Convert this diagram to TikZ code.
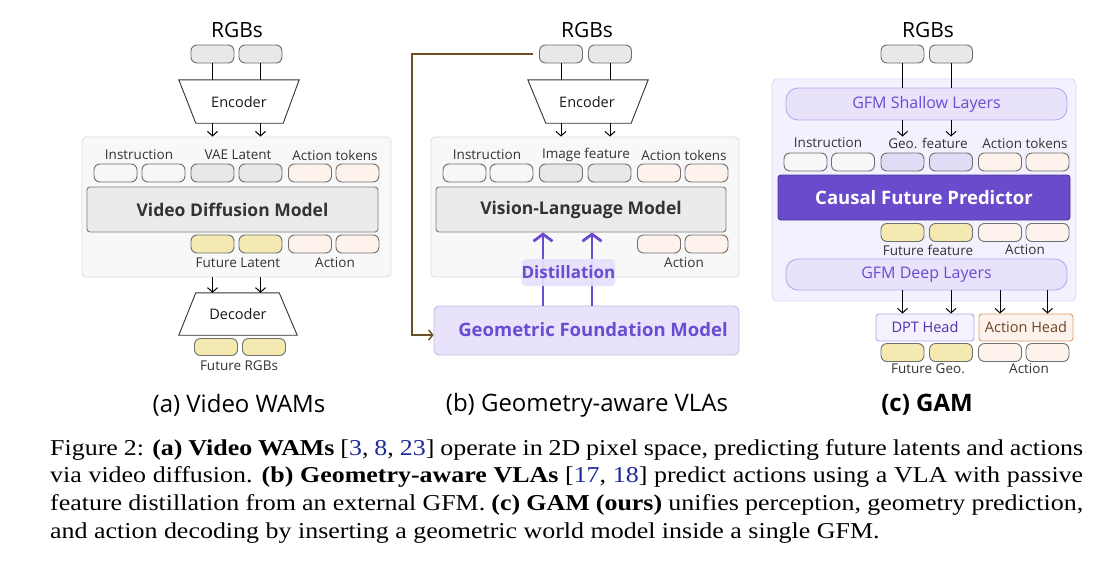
\documentclass[tikz,border=0pt]{standalone}
\usepackage{fontspec}
\setmainfont{Open Sans}
\newfontfamily\capfont[FakeStretch=1.143]{Liberation Serif}
\usetikzlibrary{arrows.meta}
\definecolor{tokline}{HTML}{6E6E6E}
\definecolor{tokgray}{HTML}{E8E8E8}
\definecolor{tokwhite}{HTML}{F7F7F7}
\definecolor{tokpeach}{HTML}{FDF3EC}
\definecolor{tokyellow}{HTML}{F4E9B0}
\definecolor{toklav}{HTML}{E2DBF6}
\definecolor{conbg}{HTML}{F8F8F8}
\definecolor{conline}{HTML}{DCDCDC}
\definecolor{modbg}{HTML}{EBEBEB}
\definecolor{modline}{HTML}{7A7A7A}
\definecolor{lbltext}{HTML}{333333}
\definecolor{purp}{HTML}{6A4BD2}
\definecolor{gfmbg}{HTML}{E8E2FA}
\definecolor{gfmline}{HTML}{C6BBE6}
\definecolor{conCbg}{HTML}{F4F1FE}
\definecolor{conCline}{HTML}{DED6F6}
\definecolor{layline}{HTML}{BBA8EE}
\definecolor{cfpbg}{HTML}{6A4BCC}
\definecolor{cfpline}{HTML}{4A3599}
\definecolor{dptbg}{HTML}{F5F2FE}
\definecolor{dptline}{HTML}{B7A3EC}
\definecolor{dpttext}{HTML}{4B2FB0}
\definecolor{ahline}{HTML}{E09A6A}
\definecolor{ahtext}{HTML}{6B4424}
\definecolor{brownline}{HTML}{6B4F24}
\definecolor{distbg}{HTML}{E7E0FB}
\definecolor{citeblue}{HTML}{1F2A9A}
\newcommand\mytok[4]{\node[tokenbox,fill=#4] (#1) at (#2,#3) {};}
\newcommand\citenum[1]{\textcolor{citeblue}{#1}}
\tikzset{
  tokenbox/.style={draw=tokline, line width=0.9pt, rounded corners=6pt, minimum width=43pt, minimum height=18pt, inner sep=0pt},
  lbl/.style={font=\fontsize{13.5}{16}\selectfont, text=lbltext, inner sep=0pt},
  title/.style={font=\fontsize{21}{24}\selectfont, text=black, inner sep=0pt},
  subcap/.style={font=\fontsize{24}{28}\selectfont, text=black, inner sep=0pt},
  arr/.style={-{Straight Barb[length=4.5pt,width=10pt]}, line width=1pt, black},
  plain/.style={line width=1pt, black},
  container/.style={draw=conline, fill=conbg, line width=0.8pt, rounded corners=4pt, inner sep=0pt},
  modelbox/.style={draw=modline, fill=modbg, line width=0.9pt, rounded corners=3pt, inner sep=0pt, text=lbltext, font=\bfseries\fontsize{17.5}{20}\selectfont},
  trap/.style={draw=black!80, fill=white, line width=0.9pt},
  traplabel/.style={inner sep=0pt, font=\fontsize{14.5}{17}\selectfont, text=black!90},
  layer/.style={draw=layline, fill=gfmbg, line width=0.9pt, rounded corners=12pt, inner sep=0pt, text=purp, font=\fontsize{16}{19}\selectfont},
  distarr/.style={-{Straight Barb[length=7pt,width=19pt,line width=2.8pt]}, line width=2.8pt, purp},
  brownarr/.style={-{Straight Barb[length=4pt,width=10pt]}, line width=1.4pt, brownline}
}
\begin{document}
\begin{tikzpicture}[x=1pt,y=-1pt]
\fill[white] (0,0) rectangle (1109,568);
\useasboundingbox (0,0) rectangle (1109,568);

% ================= (a) =================
\node[container, minimum width=309pt, minimum height=140pt] (conA) at (236.5,207) {};
\node[title] (rgbsA) at (237,30) {RGBs};
\mytok{rgbA1}{212.5}{54}{tokgray}
\mytok{rgbA2}{260.5}{54}{tokgray}
\node[inner sep=0pt, minimum width=120pt, minimum height=43pt] (encA) at (239,101.5) {};
\draw[trap] (encA.north west) -- (encA.north east) -- ([xshift=-16pt]encA.south east) -- ([xshift=17pt]encA.south west) -- cycle;
\node[traplabel] (encAt) at (239,102) {Encoder};
\draw[plain] (rgbA1.south) -- (rgbA1.south |- encA.north);
\draw[plain] (rgbA2.south) -- (rgbA2.south |- encA.north);
\draw[arr] (rgbA1 |- encA.south) -- (rgbA1 |- conA.north);
\draw[arr] (rgbA2 |- encA.south) -- (rgbA2 |- conA.north);
\node[lbl] (lA1) at (139,155) {Instruction};
\node[lbl] (lA2) at (238,155) {VAE Latent};
\node[lbl] (lA3) at (335,155) {Action tokens};
\mytok{inA1}{115.5}{173}{tokwhite}
\mytok{inA2}{163.5}{173}{tokwhite}
\mytok{vaeA1}{212.5}{173}{tokgray}
\mytok{vaeA2}{260.5}{173}{tokgray}
\mytok{actA1}{310}{173}{tokpeach}
\mytok{actA2}{357.5}{173}{tokpeach}
\node[modelbox, minimum width=291pt, minimum height=45pt] (vdm) at (232.5,209.5) {Video Diffusion Model};
\mytok{futA1}{212.5}{244}{tokyellow}
\mytok{futA2}{260.5}{244}{tokyellow}
\mytok{oactA1}{310}{244}{tokpeach}
\mytok{oactA2}{357.5}{244}{tokpeach}
\node[lbl] (lA4) at (238,263) {Future Latent};
\node[lbl] (lA5) at (335,263) {Action};
\node[inner sep=0pt, minimum width=118pt, minimum height=42pt] (decA) at (238,314) {};
\draw[trap] (decA.south west) -- (decA.south east) -- ([xshift=-18pt]decA.north east) -- ([xshift=17pt]decA.north west) -- cycle;
\node[traplabel] (decAt) at (238,314) {Decoder};
\draw[arr] (futA1 |- conA.south) -- (futA1 |- decA.north);
\draw[arr] (futA2 |- conA.south) -- (futA2 |- decA.north);
\node[tokenbox, fill=tokyellow, minimum height=17pt] (frgbA1) at (216,347) {};
\node[tokenbox, fill=tokyellow, minimum height=17pt] (frgbA2) at (264,347) {};
\node[lbl] (lA6) at (239,366) {Future RGBs};

% ================= (b) =================
\node[container, minimum width=308pt, minimum height=140pt] (conB) at (585,207) {};
\node[title] (rgbsB) at (587,30) {RGBs};
\mytok{rgbB1}{561}{54}{tokgray}
\mytok{rgbB2}{610}{54}{tokgray}
\node[inner sep=0pt, minimum width=120pt, minimum height=43pt] (encB) at (588,101.5) {};
\draw[trap] (encB.north west) -- (encB.north east) -- ([xshift=-17pt]encB.south east) -- ([xshift=18pt]encB.south west) -- cycle;
\node[traplabel] (encBt) at (587,102) {Encoder};
\draw[plain] (rgbB1.south) -- (rgbB1.south |- encB.north);
\draw[plain] (rgbB2.south) -- (rgbB2.south |- encB.north);
\draw[arr] (rgbB1 |- encB.south) -- (rgbB1 |- conB.north);
\draw[arr] (rgbB2 |- encB.south) -- (rgbB2 |- conB.north);
\node[lbl] (lB1) at (487,155) {Instruction};
\node[lbl] (lB2) at (586,155) {Image feature};
\node[lbl] (lB3) at (684,155) {Action tokens};
\mytok{inB1}{464.5}{173}{tokwhite}
\mytok{inB2}{511.5}{173}{tokwhite}
\mytok{imgB1}{561}{173}{tokgray}
\mytok{imgB2}{609.5}{173}{tokgray}
\mytok{actB1}{659}{173}{tokpeach}
\mytok{actB2}{706.5}{173}{tokpeach}
\node[modelbox, minimum width=290pt, minimum height=45pt] (vlm) at (581,209.5) {Vision-Language Model};
\mytok{oactB1}{659}{244}{tokpeach}
\mytok{oactB2}{706.5}{244}{tokpeach}
\node[lbl] (lB4) at (684,263) {Action};
\node[draw=gfmline, fill=gfmbg, line width=0.9pt, rounded corners=5pt, inner sep=0pt, minimum width=305pt, minimum height=49pt] (gfmB) at (586.5,330.5) {};
\node[inner sep=0pt, text=purp, font=\bfseries\fontsize{18.5}{22}\selectfont] (gfmBt) at (593,330) {Geometric Foundation Model};
\coordinate (dA) at (543,0);
\coordinate (dB) at (592,0);
\draw[distarr] (gfmB.north -| dA) -- (vlm.south -| dA);
\draw[distarr] (gfmB.north -| dB) -- (vlm.south -| dB);
\node[fill=distbg, fill opacity=0.92, text opacity=1, rounded corners=4pt, inner sep=0pt, minimum width=93pt, minimum height=27pt, text=purp, font=\bfseries\fontsize{17}{20}\selectfont] (dist) at (568.5,272.5) {Distillation};
\coordinate (bturn) at (412,54);
\draw[brownarr] ([xshift=-6pt]rgbB1.west) -- (bturn) |- ([yshift=-4.5pt]gfmB.west);

% ================= (c) =================
\node[draw=conCline, fill=conCbg, line width=0.8pt, rounded corners=5pt, inner sep=0pt, minimum width=304pt, minimum height=222pt] (conC) at (924,190) {};
\node[title] (rgbsC) at (928,30) {RGBs};
\mytok{rgbC1}{902.5}{54}{tokgray}
\mytok{rgbC2}{951}{54}{tokgray}
\node[layer, minimum width=281pt, minimum height=32pt] (shallow) at (926.5,104) {GFM Shallow Layers};
\draw[plain] (rgbC1.south) -- (rgbC1.south |- shallow.north);
\draw[plain] (rgbC2.south) -- (rgbC2.south |- shallow.north);
\node[lbl] (lC1) at (828,143) {Instruction};
\node[lbl] (lC2) at (928,143) {Geo. feature};
\node[lbl] (lC3) at (1025,143) {Action tokens};
\draw[arr] (rgbC1 |- shallow.south) -- ([yshift=1pt]rgbC1 |- lC2.north);
\draw[arr] (rgbC2 |- shallow.south) -- ([yshift=1pt]rgbC2 |- lC2.north);
\mytok{inC1}{805.5}{162}{tokwhite}
\mytok{inC2}{853}{162}{tokwhite}
\mytok{geoC1}{902.5}{162}{toklav}
\mytok{geoC2}{951}{162}{toklav}
\mytok{actC1}{1000}{162}{tokpeach}
\mytok{actC2}{1047.5}{162}{tokpeach}
\node[draw=cfpline, fill=cfpbg, line width=0.9pt, rounded corners=3pt, inner sep=0pt, minimum width=292pt, minimum height=45pt, text=white, font=\bfseries\fontsize{18.5}{22}\selectfont] (cfp) at (924,197.5) {Causal Future Predictor};
\mytok{futC1}{902.5}{232.5}{tokyellow}
\mytok{futC2}{951}{232.5}{tokyellow}
\mytok{oactC1}{1000}{232.5}{tokpeach}
\mytok{oactC2}{1047.5}{232.5}{tokpeach}
\node[lbl] (lC4) at (928,250) {Future feature};
\node[lbl] (lC5) at (1025,250) {Action};
\node[layer, minimum width=281pt, minimum height=31pt] (deep) at (926.5,274.5) {GFM Deep Layers};
\node[draw=dptline, fill=dptbg, line width=0.9pt, rounded corners=3pt, inner sep=0pt, minimum width=98pt, minimum height=27pt, text=dpttext, font=\fontsize{14.5}{17}\selectfont] (dpt) at (925,327.5) {DPT Head};
\node[draw=ahline, fill=tokpeach, line width=0.9pt, rounded corners=3pt, inner sep=0pt, minimum width=94pt, minimum height=27pt, text=ahtext, font=\fontsize{14.5}{17}\selectfont] (ahead) at (1026,327.5) {Action Head};
\draw[arr] (futC1 |- deep.south) -- (futC1 |- dpt.north);
\draw[arr] (futC2 |- deep.south) -- (futC2 |- dpt.north);
\draw[arr] (oactC1 |- deep.south) -- (oactC1 |- ahead.north);
\draw[arr] (oactC2 |- deep.south) -- (oactC2 |- ahead.north);
\mytok{gC1}{902.5}{352.5}{tokyellow}
\mytok{gC2}{951}{352.5}{tokyellow}
\mytok{aC1}{1000}{352.5}{tokpeach}
\mytok{aC2}{1047.5}{352.5}{tokpeach}
\node[lbl] (lC6) at (928,369) {Future Geo.};
\node[lbl] (lC7) at (1029,369) {Action};

% ================= subcaptions =================
\node[subcap] (capA) at (239,405) {(a) Video WAMs};
\node[subcap] (capB) at (587,405) {(b) Geometry-aware VLAs};
\node[subcap, font=\bfseries\fontsize{24}{28}\selectfont] (capC) at (927,405) {(c) GAM};

% ================= caption =================
\node[inner sep=0pt, anchor=north west] (caption) at (50,439) {\parbox{1033pt}{\capfont\fontsize{22.7}{27.7}\selectfont
Figure 2: \textbf{(a) Video WAMs} [\citenum{3}, \citenum{8}, \citenum{23}] operate in 2D pixel space, predicting future latents and actions\linebreak
via video diffusion. \textbf{(b) Geometry-aware VLAs} [\citenum{17}, \citenum{18}] predict actions using a VLA with passive\linebreak
feature distillation from an external GFM. \textbf{(c) GAM (ours)} unifies perception, geometry prediction,\linebreak
and action decoding by inserting a geometric world model inside a single GFM.}};
\end{tikzpicture}
\end{document}
